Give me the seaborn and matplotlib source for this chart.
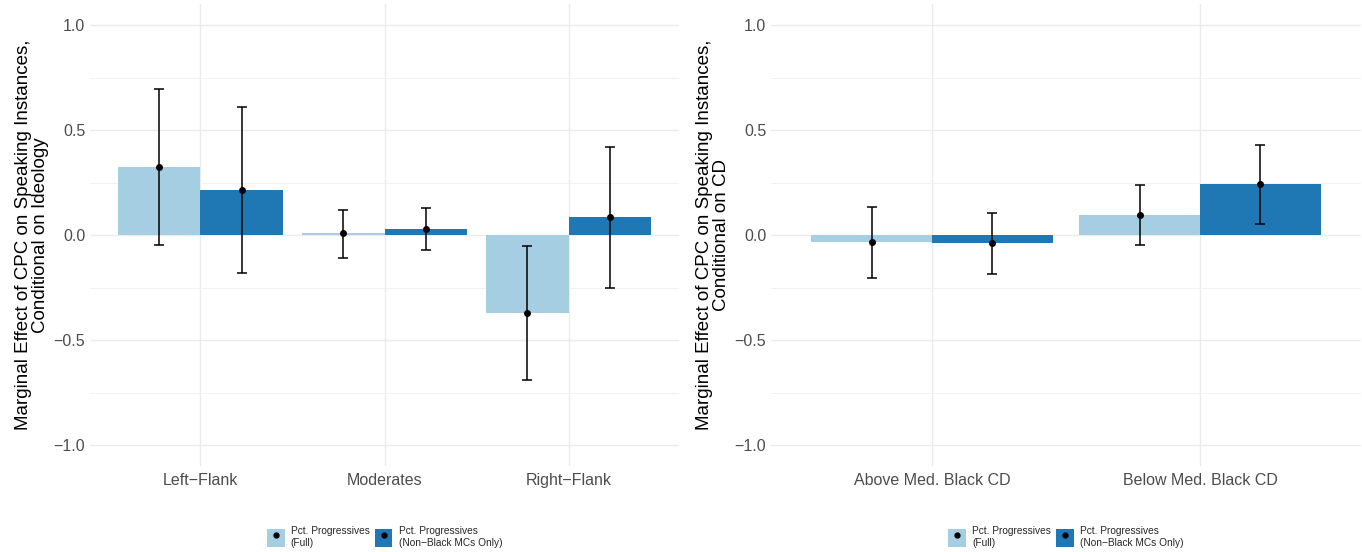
import matplotlib
matplotlib.use("Agg")
import matplotlib.pyplot as plt
from matplotlib.patches import Patch
from matplotlib.lines import Line2D
from matplotlib.legend_handler import HandlerTuple
from matplotlib.ticker import MultipleLocator
import numpy as np
import pandas as pd
import seaborn as sns

# Marginal effects by ideology group
ideology_groups = ["Left\u2212Flank", "Moderates", "Right\u2212Flank"]
ideo_full_est = [0.324, 0.008, -0.371]
ideo_full_lo = [-0.048, -0.110, -0.690]
ideo_full_hi = [0.695, 0.119, -0.052]
ideo_nonblack_est = [0.214, 0.027, 0.086]
ideo_nonblack_lo = [-0.181, -0.071, -0.252]
ideo_nonblack_hi = [0.610, 0.129, 0.419]

# Marginal effects by Black share of the congressional district
cd_groups = ["Above Med. Black CD", "Below Med. Black CD"]
cd_full_est = [-0.033, 0.097]
cd_full_lo = [-0.205, -0.048]
cd_full_hi = [0.133, 0.238]
cd_nonblack_est = [-0.038, 0.243]
cd_nonblack_lo = [-0.186, 0.052]
cd_nonblack_hi = [0.105, 0.429]

samples = ["Pct. Progressives\n(Full)", "Pct. Progressives\n(Non\u2212Black MCs Only)"]
colors = ["#A6CEE3", "#1F78B4"]
y_ticks = [-1.0, -0.5, 0.0, 0.5, 1.0]

ylabels = ["Marginal Effect of CPC on Speaking Instances,\nConditional on Ideology",
           "Marginal Effect of CPC on Speaking Instances,\nConditional on CD"]

sns.set_theme(style="white")
plt.rcParams["font.family"] = ["Liberation Sans", "DejaVu Sans"]


def make_frame(groups, full, full_lo, full_hi, nb, nb_lo, nb_hi):
    rows = []
    for s, est, lo, hi in [(samples[0], full, full_lo, full_hi),
                           (samples[1], nb, nb_lo, nb_hi)]:
        for g, e, l, h in zip(groups, est, lo, hi):
            rows.append({"group": g, "sample": s, "est": e, "lo": l, "hi": h})
    return pd.DataFrame(rows)


frames = [
    make_frame(ideology_groups, ideo_full_est, ideo_full_lo, ideo_full_hi,
               ideo_nonblack_est, ideo_nonblack_lo, ideo_nonblack_hi),
    make_frame(cd_groups, cd_full_est, cd_full_lo, cd_full_hi,
               cd_nonblack_est, cd_nonblack_lo, cd_nonblack_hi),
]
group_lists = [ideology_groups, cd_groups]

fig = plt.figure(figsize=(13.62, 5.52), dpi=100)
bottom, top = 1 - 466 / 552, 1 - 4 / 552
axes = [fig.add_axes([90 / 1362, bottom, (679 - 90) / 1362, top - bottom]),
        fig.add_axes([771 / 1362, bottom, (1361 - 771) / 1362, top - bottom])]

for ax, df, groups, ylab, legx in zip(axes, frames, group_lists, ylabels,
                                      [(90 + 679) / 2 / 1362, (771 + 1361) / 2 / 1362]):
    sns.barplot(data=df, x="group", y="est", hue="sample", order=groups,
                hue_order=samples, palette=colors, width=0.9, errorbar=None,
                saturation=1, legend=False, ax=ax, zorder=2, linewidth=0,
                edgecolor="none")
    # patches come out ordered by hue level, then by category
    bars = [p for p in ax.patches]
    ordered = df.set_index(["sample", "group"])
    k = 0
    for s in samples:
        for g in groups:
            p = bars[k]
            k += 1
            xc = p.get_x() + p.get_width() / 2
            r = ordered.loc[(s, g)]
            ax.errorbar([xc], [r["est"]],
                        yerr=[[r["est"] - r["lo"]], [r["hi"] - r["est"]]],
                        fmt="o", color="black", ms=4.0, elinewidth=1.1,
                        capsize=3.6, capthick=1.1, zorder=4)

    ax.set_xlim(-0.6, len(groups) - 0.4)
    ax.set_ylim(-1.1, 1.1)
    ax.set_yticks(y_ticks)
    ax.yaxis.set_minor_locator(MultipleLocator(0.25))
    ax.grid(True, which="major", axis="both", color="#EBEBEB", linewidth=1.0, zorder=0)
    ax.grid(True, which="minor", axis="y", color="#F2F2F2", linewidth=0.7, zorder=0)
    ax.set_axisbelow(True)
    for sp in ax.spines.values():
        sp.set_visible(False)
    ax.tick_params(axis="y", which="both", length=0, labelsize=11.5,
                   labelcolor="#4D4D4D", pad=3.5)
    ax.tick_params(axis="x", which="both", length=0, labelsize=11.5,
                   labelcolor="#4D4D4D", pad=5)
    ax.set_xlabel("")
    ax.set_ylabel(ylab, fontsize=13.5, color="black", labelpad=3, linespacing=1.0)

    handles = [(Patch(facecolor=c, edgecolor="none"),
                Line2D([], [], marker="o", color="black", linestyle="none", ms=3.5))
               for c in colors]
    fig.legend(handles, samples, handler_map={tuple: HandlerTuple(ndivide=1)},
               loc="center", bbox_to_anchor=(legx, 1 - 537 / 552), ncol=2,
               frameon=False, fontsize=7.3, handlelength=1.75, handleheight=2.3,
               handletextpad=0.6, columnspacing=0.5, borderaxespad=0)

fig.savefig("out.png", dpi=100, facecolor="white")
